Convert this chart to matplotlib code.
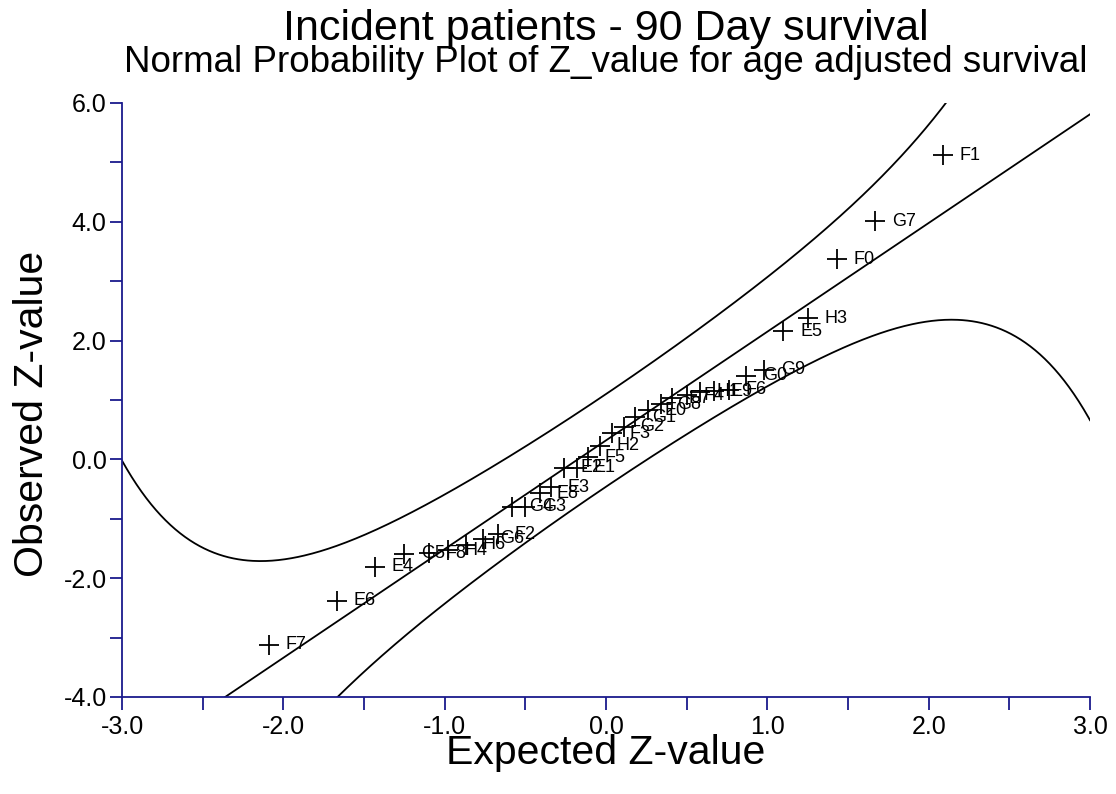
import numpy as np
import matplotlib
matplotlib.use("Agg")
import matplotlib.pyplot as plt
from matplotlib.ticker import MultipleLocator, FuncFormatter

plt.rcParams['font.family'] = ['Liberation Sans', 'DejaVu Sans']
plt.rcParams['axes.unicode_minus'] = False

# ---- data ----
labels = ["F7", "E6", "E4", "G5", "F8", "H4", "H6", "G6", "F2", "G4",
          "G3", "E8", "E3", "E2", "E1", "F5", "H2", "F3", "G2", "G1",
          "E0", "G8", "E7", "F4", "H1", "E9", "F6", "G0", "G9", "E5",
          "H3", "F0", "G7", "F1"]
expected_z = [-2.09, -1.67, -1.43, -1.25, -1.10, -0.98, -0.87, -0.76, -0.67, -0.58,
              -0.50, -0.41, -0.34, -0.26, -0.18, -0.11, -0.04, 0.04, 0.11, 0.18,
              0.26, 0.34, 0.41, 0.50, 0.58, 0.67, 0.76, 0.87, 0.98, 1.10,
              1.25, 1.43, 1.67, 2.09]
observed_z = [-3.12, -2.38, -1.81, -1.59, -1.58, -1.53, -1.44, -1.34, -1.26, -0.80,
              -0.80, -0.57, -0.47, -0.14, -0.14, 0.04, 0.23, 0.44, 0.55, 0.71,
              0.83, 0.93, 1.03, 1.08, 1.14, 1.15, 1.17, 1.41, 1.51, 2.16,
              2.38, 3.37, 4.01, 5.12]

line_intercept = 0.32
line_slope = 1.83
band_coef = [0.78, 0.1257, 0.00992, 0.00334]   # a + b x^2 + c x^4 + d x^6

x_ticks = [-3.0, -2.0, -1.0, 0.0, 1.0, 2.0, 3.0]
y_ticks = [-4.0, -2.0, 0.0, 2.0, 4.0, 6.0]

title = "Incident patients - 90 Day survival"
subtitle = "Normal Probability Plot of Z_value for age adjusted survival"
xlabel = "Expected Z-value"
ylabel = "Observed Z-value"

# ---- drawing ----
fig = plt.figure(figsize=(11.16, 7.94), dpi=100)
ax = fig.add_axes([122/1116, 1-697/794, (1090-122)/1116, (697-103)/794])

xs = np.linspace(-3, 3, 601)
line = line_intercept + line_slope * xs
w = band_coef[0] + band_coef[1]*xs**2 + band_coef[2]*xs**4 + band_coef[3]*xs**6
ax.plot(xs, line, color='black', lw=1.3)
ax.plot(xs, line + w, color='black', lw=1.3)
ax.plot(xs, line - w, color='black', lw=1.3)

ax.plot(expected_z, observed_z, linestyle='none', marker='+', color='black',
        markersize=15, markeredgewidth=1.3)
for lx, ly, lb in zip(expected_z, observed_z, labels):
    ax.annotate(lb, (lx, ly), xytext=(12, 0), textcoords='offset points',
                va='center', ha='left', fontsize=13, color='black')

ax.set_xlim(-3, 3)
ax.set_ylim(-4, 6)

navy = '#1a1a8c'
for s in ['top', 'right']:
    ax.spines[s].set_visible(False)
for s in ['left', 'bottom']:
    ax.spines[s].set_color(navy)
    ax.spines[s].set_linewidth(1.3)

ax.set_xticks(x_ticks)
ax.set_yticks(y_ticks)
ax.xaxis.set_minor_locator(MultipleLocator(0.5))
ax.yaxis.set_minor_locator(MultipleLocator(1.0))
fmt = FuncFormatter(lambda v, p: "%.1f" % v)
ax.xaxis.set_major_formatter(fmt)
ax.yaxis.set_major_formatter(fmt)
ax.tick_params(which='both', direction='out', length=9, width=1.3, color=navy,
               labelsize=18, labelcolor='black')
ax.tick_params(axis='x', which='both', pad=4)
ax.tick_params(axis='y', which='both', pad=2)

fig.text(606/1116, 1-29/794, title, ha='center', va='center', fontsize=31)
fig.text(606/1116, 1-63/794, subtitle, ha='center', va='center', fontsize=26.5)
fig.text(606/1116, 1-753/794, xlabel, ha='center', va='center', fontsize=29.5)
fig.text(32/1116, 1-414/794, ylabel, ha='center', va='center', rotation=90, fontsize=29.5)

fig.savefig("out.png", dpi=100)
